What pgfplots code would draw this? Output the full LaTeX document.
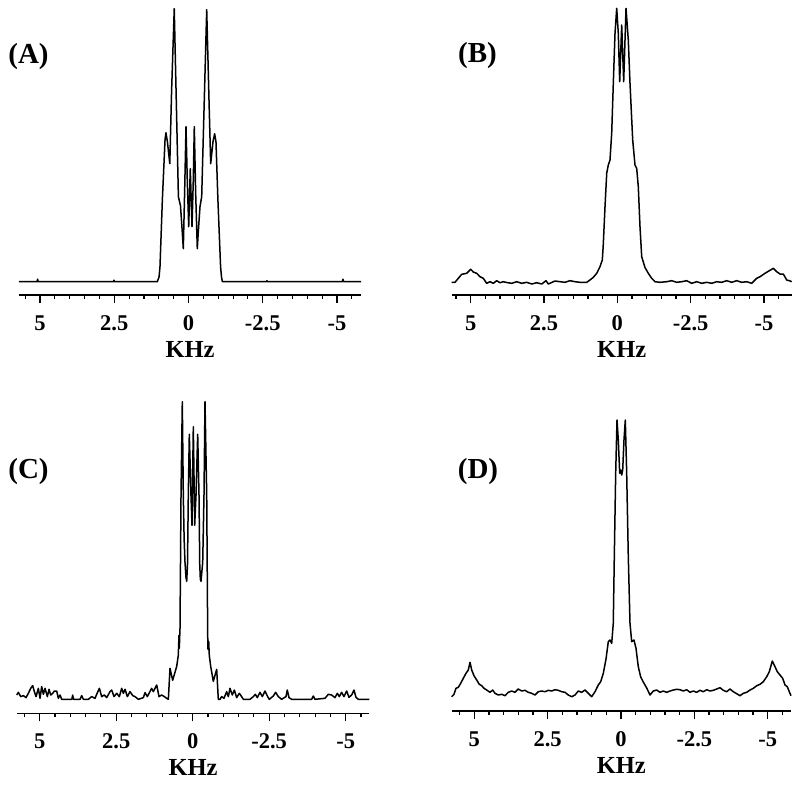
\documentclass[border=0pt]{standalone}
\usepackage{fontspec}
\setmainfont{Liberation Serif}
\usepackage{pgfplots}
\pgfplotsset{compat=1.18}
\begin{document}
\begin{tikzpicture}[x=1pt,y=1pt]
\useasboundingbox (0,0) rectangle (800,-785);
\pgfplotsset{
 spec/.style={
  scale only axis, clip=false,
  axis x line=bottom, axis y line=none,
  x axis line style={-, line width=1.5pt},
  x dir=reverse,
  xtick={5,2.5,0,-2.5,-5}, xticklabels={5,2.5,0,-2.5,-5},
  minor xtick={5.5,4.5,4,3.5,3,2,1.5,1,0.5,-0.5,-1,-1.5,-2,-3,-3.5,-4,-4.5,-5.5},
  tick align=outside,
  major tick length=8pt, minor tick length=4pt,
  tick style={black, line width=1.1pt},
  ticklabel style={font=\fontsize{22.5}{24}\selectfont\bfseries},
  xticklabel style={yshift=-9pt},
  xlabel={KHz},
  xlabel style={font=\fontsize{24.5}{26}\selectfont\bfseries, at={(axis description cs:0.5,0)}, anchor=center, yshift=-54pt},
  ytick=\empty,
  enlargelimits=false,
 },
 curve/.style={black, line width=1.5pt, line join=round, mark=none},
}
% Panel A
\begin{axis}[spec, at={(19pt,-295pt)}, anchor=south west, width=342pt, height=287pt,
  xmin=-5.808, xmax=5.707, ymin=-13.3, ymax=273.7]
\addplot[curve] coordinates {
(5.707,0) (5.10,0) (5.08,2.5) (5.06,0) (2.53,0) (2.51,1.5) (2.49,0)
(1.05,0) (0.99,5) (0.96,15) (0.88,82) (0.79,142) (0.76,149) (0.71,140)
(0.63,118) (0.57,190) (0.48,273) (0.34,85) (0.27,76) (0.21,50) (0.175,33)
(0.13,90) (0.084,155) (0.04,100) (-0.007,55) (-0.06,113) (-0.118,55)
(-0.16,100) (-0.195,155) (-0.24,90) (-0.296,33) (-0.33,50) (-0.387,75)
(-0.444,85) (-0.613,272) (-0.69,182) (-0.747,118) (-0.825,140) (-0.88,148)
(-0.925,140) (-0.99,82) (-1.08,15) (-1.11,5) (-1.14,0) (-2.62,0) (-2.64,1)
(-2.66,0) (-5.18,0) (-5.20,2.5) (-5.22,0) (-5.808,0)
};
\end{axis}
% Panel B
\begin{axis}[spec, at={(451.7pt,-295pt)}, anchor=south west, width=340pt, height=288pt,
  xmin=-5.946, xmax=5.646, ymin=-11, ymax=277]
\addplot[curve] coordinates {
(5.646,1.7) (5.534,1.7) (5.421,5.7) (5.305,9.7) (5.135,10.7) (4.998,14.7)
(4.910,12) (4.794,10.7) (4.682,7.3) (4.569,5.7) (4.453,0.7) (4.340,2.3)
(4.228,0.7) (4.112,3.3) (3.999,1.3) (3.887,2.3) (3.771,1.5) (3.600,0.7)
(3.430,2.3) (3.259,0.7) (3.089,1.7) (2.918,0) (2.748,1.3) (2.578,0)
(2.431,3.3) (2.353,0) (2.124,3) (1.954,2.3) (1.783,1.7) (1.613,3.3)
(1.442,2.3) (1.272,1.7) (1.043,1.7) (0.931,4) (0.818,6.7) (0.702,10.7)
(0.590,17.3) (0.511,24) (0.477,40) (0.419,77.3) (0.361,110.7) (0.307,119)
(0.249,124) (0.191,150.7) (0.136,200.7) (0.078,250.7) (0.020,275.7)
(-0.034,250.7) (-0.082,202.3) (-0.150,259) (-0.218,202.3) (-0.297,275.7)
(-0.375,244) (-0.433,200.7) (-0.525,144) (-0.603,119) (-0.661,115.7)
(-0.716,97.3) (-0.774,57.3) (-0.832,27.3) (-0.944,16.5) (-1.057,10.7)
(-1.173,5.7) (-1.285,2.3) (-1.456,1.7) (-1.684,2.3) (-1.855,3.3) (-2.025,1.7)
(-2.196,2.3) (-2.366,3.3) (-2.537,0.7) (-2.707,2.3) (-2.878,0.7) (-3.048,1.7)
(-3.219,0.7) (-3.389,2.3) (-3.560,1.7) (-3.730,3.3) (-3.900,1.7) (-4.071,3.3)
(-4.241,1.7) (-4.412,2.3) (-4.582,0.7) (-4.753,5.7) (-4.865,7.3) (-5.036,10.7)
(-5.319,15.7) (-5.435,12.3) (-5.547,10) (-5.660,10) (-5.776,4) (-5.864,3.3)
(-5.946,2.3)
};
\end{axis}
% Panel C
\begin{axis}[spec, at={(16.7pt,-713.3pt)}, anchor=south west, width=352.6pt, height=311.6pt,
  xmin=-5.772, xmax=5.753, ymin=-14, ymax=297.6]
\addplot[curve] coordinates {
(5.753,4.3) (5.698,7) (5.622,2.7) (5.535,3.7) (5.448,1.7) (5.371,6) (5.295,11)
(5.230,13.7) (5.175,7.7) (5.121,2.7) (5.045,11) (4.990,1) (4.936,12.7)
(4.881,5) (4.827,11) (4.751,2.7) (4.696,10) (4.642,4.3) (4.576,6) (4.522,8.3)
(4.446,8.3) (4.391,1) (4.337,4.3) (4.282,0) (3.950,0) (3.923,4.3) (3.895,0)
(3.683,0) (3.628,3.7) (3.574,0) (3.411,0) (3.302,2.7) (3.193,1) (3.138,5)
(3.051,11) (2.975,2.7) (2.888,4.3) (2.811,1.7) (2.703,7.7) (2.648,9.3)
(2.572,2.7) (2.485,6) (2.398,2.7) (2.321,11) (2.267,6) (2.212,10) (2.136,2.7)
(2.049,7.7) (1.962,3.7) (1.886,2.7) (1.777,0) (1.613,1.7) (1.559,6.7)
(1.483,2.7) (1.341,11) (1.287,7.7) (1.177,14.3) (1.101,2.7) (1.014,4.3)
(0.927,2.7) (0.851,1) (0.796,0) (0.742,31) (0.654,19) (0.523,33) (0.471,44)
(0.448,64) (0.438,51) (0.415,71) (0.382,204) (0.340,297.6) (0.307,204)
(0.28,160) (0.252,137) (0.22,122) (0.196,118) (0.17,135) (0.144,204)
(0.111,265) (0.056,204) (0.023,174) (-0.020,272.6) (-0.065,174) (-0.108,204)
(-0.163,265) (-0.206,204) (-0.23,135) (-0.25,120) (-0.271,118) (-0.30,128)
(-0.327,137) (-0.369,204) (-0.402,297.6) (-0.458,204) (-0.490,64) (-0.50,50)
(-0.523,58) (-0.542,44) (-0.588,33) (-0.673,18) (-0.784,30) (-0.837,0)
(-0.892,0) (-0.947,2.7) (-1.023,1) (-1.110,7.7) (-1.164,2.7) (-1.219,11)
(-1.295,4.3) (-1.361,9.3) (-1.437,1.7) (-1.524,6) (-1.600,2.7) (-1.655,0)
(-1.873,0) (-1.981,2.7) (-2.047,5) (-2.112,1.7) (-2.199,7) (-2.276,2.7)
(-2.363,8.3) (-2.450,2.7) (-2.504,0) (-2.635,3.3) (-2.711,7) (-2.798,2.7)
(-2.907,0) (-3.049,2.7) (-3.092,9.3) (-3.147,1.7) (-3.234,0) (-3.888,0)
(-3.942,3.3) (-3.997,0) (-4.324,1) (-4.432,5) (-4.541,4.3) (-4.650,1.7)
(-4.727,6) (-4.792,2.7) (-4.868,7) (-4.944,2.7) (-5.032,8.3) (-5.108,2)
(-5.195,4.3) (-5.271,9.3) (-5.337,2) (-5.413,0) (-5.772,0)
};
\end{axis}
% Panel D
\begin{axis}[spec, at={(451.7pt,-711pt)}, anchor=south west, width=339.3pt, height=292pt,
  xmin=-5.796, xmax=5.772, ymin=-14, ymax=278]
\addplot[curve] coordinates {
(5.772,0.3) (5.694,2.7) (5.626,8.7) (5.547,9.7) (5.465,13.7) (5.377,18.7)
(5.285,23.7) (5.206,27) (5.148,34.7) (5.090,27) (5.012,21.3) (4.920,17)
(4.831,12.7) (4.749,11.3) (4.671,8.7) (4.579,7) (4.466,4.7) (4.374,7)
(4.296,3.7) (4.183,2) (4.068,2.7) (3.955,1.3) (3.842,4.7) (3.727,6)
(3.614,4.7) (3.502,8) (3.386,6) (3.273,6.7) (3.161,4.7) (3.045,3.7)
(2.932,2) (2.820,5.3) (2.704,6) (2.591,5.3) (2.479,6.7) (2.363,6) (2.250,7.3)
(2.138,6.7) (2.022,5.3) (1.909,4.7) (1.797,2) (1.681,0.3) (1.568,2) (1.456,6)
(1.340,4.7) (1.227,7) (1.115,3.7) (0.999,0.3) (0.886,5.3) (0.774,12)
(0.692,15.3) (0.603,23.7) (0.511,38) (0.433,55.3) (0.375,57) (0.317,53.7)
(0.263,73.7) (0.228,140.3) (0.181,223.7) (0.136,277) (0.092,257)
(0.044,223.7) (0.010,227) (-0.024,222) (-0.058,227) (-0.102,257) (-0.147,277)
(-0.194,223.7) (-0.249,140.3) (-0.307,73.7) (-0.365,55.3) (-0.443,57)
(-0.511,48.7) (-0.590,30.3) (-0.672,20) (-0.760,15) (-0.876,9) (-0.989,2)
(-1.101,6) (-1.217,7) (-1.330,4.7) (-1.442,6) (-1.558,4.7) (-1.671,6)
(-1.783,7) (-1.899,7.7) (-2.012,7.3) (-2.124,6) (-2.240,7.3) (-2.353,4.7)
(-2.465,6) (-2.581,4.7) (-2.693,6.7) (-2.806,5.3) (-2.922,7.3) (-3.034,6)
(-3.147,6.7) (-3.263,8) (-3.375,9.3) (-3.488,6.7) (-3.604,5.3) (-3.716,8)
(-3.829,5.3) (-3.945,3.3) (-4.057,1.3) (-4.170,3.7) (-4.286,4.7) (-4.398,7)
(-4.511,8.7) (-4.627,11.3) (-4.739,12.7) (-4.852,15.3) (-4.968,20.3)
(-5.056,25.3) (-5.159,36) (-5.251,30.3) (-5.329,25.3) (-5.421,22)
(-5.513,18.7) (-5.592,12) (-5.670,10.3) (-5.738,5.3) (-5.796,1.3)
};
\end{axis}
\node at (28.5,-57) {\fontsize{29}{30}\selectfont\bfseries (A)};
\node at (477.5,-56) {\fontsize{29}{30}\selectfont\bfseries (B)};
\node at (28.5,-472) {\fontsize{29}{30}\selectfont\bfseries (C)};
\node at (478,-471.5) {\fontsize{29}{30}\selectfont\bfseries (D)};
\end{tikzpicture}
\end{document}
